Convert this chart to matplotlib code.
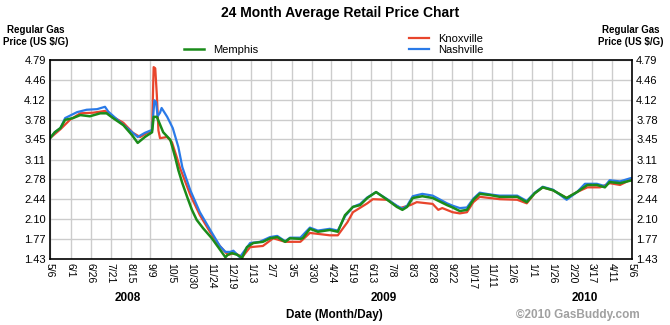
import numpy as np
import pandas as pd
import matplotlib
matplotlib.use("Agg")
import matplotlib.pyplot as plt

plt.rcParams['font.family'] = ['Liberation Sans', 'DejaVu Sans']

# Data: days since 5/6/2008 and average price ($/G)
start = pd.Timestamp("2008-05-06")

knox_day = [0, 13, 25, 38, 54, 69, 75, 92, 104, 113, 122, 128, 130, 132, 134, 136, 138,
            147, 153, 159, 163, 176, 188, 201, 213, 223, 232, 241, 251, 267, 280, 295,
            314, 326, 351, 361, 373, 380, 398, 405, 423, 439, 452, 460, 480, 487, 492,
            505, 514, 523, 531, 539, 564, 586, 598, 608, 618, 631, 648, 661, 674, 690,
            702, 715, 727, 730]
knox_price = [3.47, 3.62, 3.78, 3.89, 3.90, 3.93, 3.86, 3.73, 3.56, 3.49, 3.56, 3.60, 4.67,
              4.65, 4.20, 3.60, 3.47, 3.49, 3.40, 3.15, 2.97, 2.51, 2.17, 1.88, 1.65, 1.50,
              1.53, 1.46, 1.63, 1.65, 1.78, 1.72, 1.72, 1.87, 1.83, 1.83, 2.05, 2.22, 2.37,
              2.44, 2.43, 2.29, 2.34, 2.39, 2.36, 2.26, 2.29, 2.22, 2.20, 2.22, 2.39, 2.48,
              2.44, 2.43, 2.37, 2.54, 2.64, 2.59, 2.46, 2.56, 2.64, 2.64, 2.71, 2.68, 2.76,
              2.76]

nash_day = [0, 6, 13, 19, 34, 46, 59, 69, 73, 88, 103, 110, 119, 128, 131, 133, 135, 138,
            140, 147, 154, 161, 166, 176, 188, 201, 213, 220, 226, 230, 238, 251, 263, 276,
            285, 295, 301, 314, 326, 336, 351, 361, 370, 380, 389, 398, 409, 423, 435, 442,
            448, 455, 467, 480, 498, 505, 514, 523, 531, 539, 552, 564, 586, 598, 608, 618,
            631, 648, 661, 671, 686, 696, 702, 715, 727, 730]
nash_price = [3.47, 3.57, 3.64, 3.81, 3.91, 3.95, 3.96, 4.00, 3.92, 3.74, 3.57, 3.49, 3.56,
              3.61, 4.11, 4.08, 3.84, 3.90, 3.98, 3.83, 3.64, 3.32, 2.98, 2.59, 2.22, 1.92,
              1.65, 1.55, 1.55, 1.57, 1.46, 1.70, 1.72, 1.80, 1.82, 1.73, 1.79, 1.79, 1.96,
              1.91, 1.94, 1.91, 2.15, 2.31, 2.36, 2.47, 2.56, 2.44, 2.33, 2.28, 2.33, 2.49,
              2.53, 2.50, 2.37, 2.33, 2.29, 2.30, 2.45, 2.55, 2.52, 2.50, 2.50, 2.41, 2.55,
              2.65, 2.60, 2.43, 2.56, 2.70, 2.70, 2.66, 2.76, 2.74, 2.79, 2.80]

memph_day = [0, 6, 13, 19, 29, 38, 50, 63, 71, 79, 92, 103, 110, 119, 128, 130, 134, 142,
             151, 157, 161, 166, 172, 178, 184, 192, 203, 211, 220, 223, 228, 235, 241, 247,
             255, 267, 276, 285, 295, 301, 314, 317, 326, 336, 351, 361, 370, 380, 389, 398,
             409, 423, 435, 442, 448, 455, 467, 480, 498, 505, 514, 523, 531, 539, 552, 564,
             586, 598, 608, 618, 631, 648, 661, 674, 686, 696, 702, 715, 727, 730]
memph_price = [3.47, 3.57, 3.64, 3.78, 3.81, 3.86, 3.84, 3.89, 3.89, 3.81, 3.69, 3.52, 3.39,
               3.49, 3.57, 3.83, 3.83, 3.57, 3.44, 3.15, 2.93, 2.71, 2.48, 2.26, 2.09, 1.95,
               1.78, 1.63, 1.46, 1.50, 1.53, 1.50, 1.45, 1.63, 1.70, 1.72, 1.78, 1.80, 1.72,
               1.78, 1.77, 1.78, 1.94, 1.89, 1.92, 1.89, 2.17, 2.31, 2.34, 2.46, 2.56, 2.43,
               2.31, 2.26, 2.31, 2.46, 2.49, 2.46, 2.34, 2.30, 2.24, 2.26, 2.43, 2.53, 2.51,
               2.48, 2.48, 2.39, 2.54, 2.64, 2.59, 2.46, 2.56, 2.68, 2.68, 2.64, 2.73, 2.71,
               2.75, 2.76]

tick_dates = ["2008-05-06", "2008-06-01", "2008-06-26", "2008-07-21", "2008-08-15",
              "2008-09-09", "2008-10-05", "2008-10-30", "2008-11-24", "2008-12-19",
              "2009-01-13", "2009-02-07", "2009-03-05", "2009-03-30", "2009-04-24",
              "2009-05-19", "2009-06-13", "2009-07-08", "2009-08-03", "2009-08-28",
              "2009-09-22", "2009-10-17", "2009-11-11", "2009-12-06", "2010-01-01",
              "2010-01-26", "2010-02-20", "2010-03-17", "2010-04-11", "2010-05-06"]
y_ticks = [1.43, 1.77, 2.10, 2.44, 2.78, 3.11, 3.45, 3.78, 4.12, 4.46, 4.79]


def to_dates(days):
    return start + pd.to_timedelta(days, unit="D")


fig = plt.figure(figsize=(6.7, 3.25), dpi=100)
ax = fig.add_axes([50 / 670, 1 - 259 / 325, 582 / 670, 199 / 325])

l_knox, = ax.plot(to_dates(knox_day), knox_price, color="#e8452c", lw=1.6, label="Knoxville")
l_nash, = ax.plot(to_dates(nash_day), nash_price, color="#2a7ae8", lw=1.6, label="Nashville")
l_mem, = ax.plot(to_dates(memph_day), memph_price, color="#1a8c1a", lw=1.8, label="Memphis")

tdates = pd.to_datetime(tick_dates)
ax.set_xlim(tdates[0], tdates[-1])
ax.set_ylim(1.43, 4.79)
ax.set_xticks(tdates)
ax.set_xticklabels([f"{d.month}/{d.day}" for d in tdates], rotation=-90, fontsize=7.5)
ax.set_yticks(y_ticks)
ax.set_yticklabels([f"{v:.2f}" for v in y_ticks], fontsize=8)
ax.tick_params(length=0, pad=3, labelright=True)
ax.grid(color="#cccccc", lw=1)
ax.set_axisbelow(True)
for s in ax.spines.values():
    s.set_color("black")
    s.set_linewidth(1.2)

# titles and labels
fig.text(340 / 670, 1 - 13 / 325, "24 Month Average Retail Price Chart",
         ha="center", va="center", fontsize=10, fontweight="bold")
fig.text(3 / 670, 1 - 36 / 325, "Regular Gas\nPrice (US $/G)", ha="left", va="center",
         multialignment="center", fontsize=7, fontweight="bold", linespacing=1.35)
fig.text(664 / 670, 1 - 36 / 325, "Regular Gas\nPrice (US $/G)", ha="right", va="center",
         multialignment="center", fontsize=7, fontweight="bold", linespacing=1.35)
for yr, xp in [("2008", 128), ("2009", 384), ("2010", 585)]:
    fig.text(xp / 670, 1 - 298 / 325, yr, ha="center", va="center",
             fontsize=8.5, fontweight="bold")
fig.text(334 / 670, 1 - 315 / 325, "Date (Month/Day)", ha="center", va="center",
         fontsize=8.5, fontweight="bold")
fig.text(640 / 670, 1 - 315 / 325, "\u00a92010 GasBuddy.com", ha="right", va="center",
         fontsize=8.5, fontweight="bold", color="#a0a0a0")

# legends
fig.legend(handles=[l_mem], loc="center left", bbox_to_anchor=(184 / 670, 1 - 50 / 325),
           frameon=False, fontsize=8, handlelength=1.8, handletextpad=0.8, borderpad=0,
           borderaxespad=0)
fig.legend(handles=[l_knox, l_nash], loc="center left",
           bbox_to_anchor=(409 / 670, 1 - 44.5 / 325), frameon=False, fontsize=8,
           handlelength=1.8, handletextpad=0.8, borderpad=0, borderaxespad=0,
           labelspacing=0.15)

fig.savefig("out.png", dpi=100)
